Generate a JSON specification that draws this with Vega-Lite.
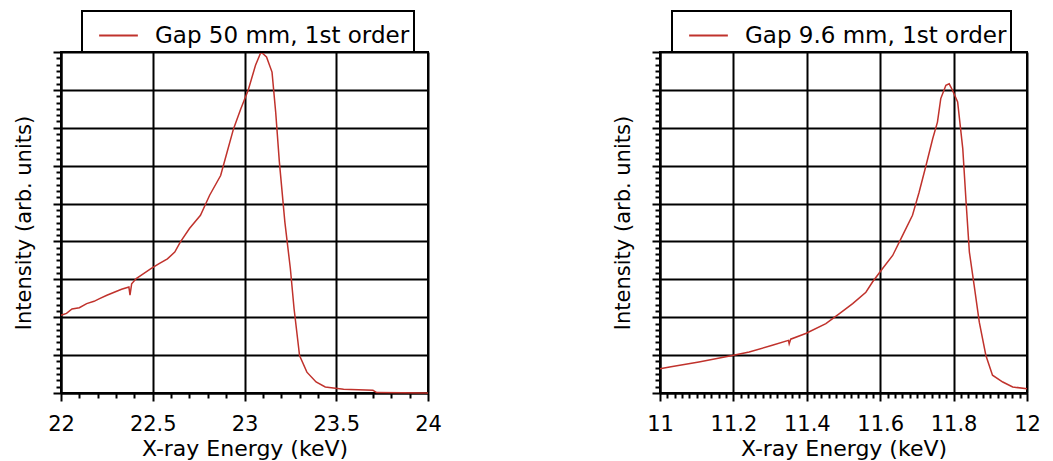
{
  "$schema": "https://vega.github.io/schema/vega-lite/v6.json",
  "background": "white",
  "padding": {"left": 12, "top": 9, "right": 5, "bottom": 5},
  "spacing": 168,
  "resolve": {"scale": {"color": "independent"}, "legend": {"color": "independent"}},
  "datasets": {
    "left": [
      {"energy": 22.0, "intensity": 2.05, "series": "Gap 50 mm, 1st order"},
      {"energy": 22.03, "intensity": 2.1, "series": "Gap 50 mm, 1st order"},
      {"energy": 22.06, "intensity": 2.22, "series": "Gap 50 mm, 1st order"},
      {"energy": 22.1, "intensity": 2.25, "series": "Gap 50 mm, 1st order"},
      {"energy": 22.14, "intensity": 2.36, "series": "Gap 50 mm, 1st order"},
      {"energy": 22.18, "intensity": 2.42, "series": "Gap 50 mm, 1st order"},
      {"energy": 22.21, "intensity": 2.49, "series": "Gap 50 mm, 1st order"},
      {"energy": 22.25, "intensity": 2.58, "series": "Gap 50 mm, 1st order"},
      {"energy": 22.29, "intensity": 2.66, "series": "Gap 50 mm, 1st order"},
      {"energy": 22.33, "intensity": 2.74, "series": "Gap 50 mm, 1st order"},
      {"energy": 22.37, "intensity": 2.8, "series": "Gap 50 mm, 1st order"},
      {"energy": 22.376, "intensity": 2.58, "series": "Gap 50 mm, 1st order"},
      {"energy": 22.385, "intensity": 2.88, "series": "Gap 50 mm, 1st order"},
      {"energy": 22.41, "intensity": 3.02, "series": "Gap 50 mm, 1st order"},
      {"energy": 22.45, "intensity": 3.15, "series": "Gap 50 mm, 1st order"},
      {"energy": 22.49, "intensity": 3.28, "series": "Gap 50 mm, 1st order"},
      {"energy": 22.53, "intensity": 3.4, "series": "Gap 50 mm, 1st order"},
      {"energy": 22.58, "intensity": 3.54, "series": "Gap 50 mm, 1st order"},
      {"energy": 22.62, "intensity": 3.72, "series": "Gap 50 mm, 1st order"},
      {"energy": 22.65, "intensity": 3.98, "series": "Gap 50 mm, 1st order"},
      {"energy": 22.7, "intensity": 4.34, "series": "Gap 50 mm, 1st order"},
      {"energy": 22.76, "intensity": 4.69, "series": "Gap 50 mm, 1st order"},
      {"energy": 22.81, "intensity": 5.22, "series": "Gap 50 mm, 1st order"},
      {"energy": 22.87, "intensity": 5.74, "series": "Gap 50 mm, 1st order"},
      {"energy": 22.9, "intensity": 6.27, "series": "Gap 50 mm, 1st order"},
      {"energy": 22.94, "intensity": 6.97, "series": "Gap 50 mm, 1st order"},
      {"energy": 22.98, "intensity": 7.5, "series": "Gap 50 mm, 1st order"},
      {"energy": 23.02, "intensity": 7.99, "series": "Gap 50 mm, 1st order"},
      {"energy": 23.06, "intensity": 8.65, "series": "Gap 50 mm, 1st order"},
      {"energy": 23.09, "intensity": 9.0, "series": "Gap 50 mm, 1st order"},
      {"energy": 23.12, "intensity": 8.87, "series": "Gap 50 mm, 1st order"},
      {"energy": 23.15, "intensity": 8.47, "series": "Gap 50 mm, 1st order"},
      {"energy": 23.17, "intensity": 7.41, "series": "Gap 50 mm, 1st order"},
      {"energy": 23.19, "intensity": 6.1, "series": "Gap 50 mm, 1st order"},
      {"energy": 23.22, "intensity": 4.51, "series": "Gap 50 mm, 1st order"},
      {"energy": 23.25, "intensity": 3.28, "series": "Gap 50 mm, 1st order"},
      {"energy": 23.27, "intensity": 2.23, "series": "Gap 50 mm, 1st order"},
      {"energy": 23.3, "intensity": 0.99, "series": "Gap 50 mm, 1st order"},
      {"energy": 23.34, "intensity": 0.55, "series": "Gap 50 mm, 1st order"},
      {"energy": 23.39, "intensity": 0.29, "series": "Gap 50 mm, 1st order"},
      {"energy": 23.44, "intensity": 0.16, "series": "Gap 50 mm, 1st order"},
      {"energy": 23.54, "intensity": 0.1, "series": "Gap 50 mm, 1st order"},
      {"energy": 23.7, "intensity": 0.07, "series": "Gap 50 mm, 1st order"},
      {"energy": 23.72, "intensity": 0.01, "series": "Gap 50 mm, 1st order"},
      {"energy": 24.0, "intensity": 0.0, "series": "Gap 50 mm, 1st order"}
    ],
    "right": [
      {"energy": 11.0, "intensity": 0.64, "series": "Gap 9.6 mm, 1st order"},
      {"energy": 11.03, "intensity": 0.69, "series": "Gap 9.6 mm, 1st order"},
      {"energy": 11.106, "intensity": 0.82, "series": "Gap 9.6 mm, 1st order"},
      {"energy": 11.197, "intensity": 0.99, "series": "Gap 9.6 mm, 1st order"},
      {"energy": 11.243, "intensity": 1.08, "series": "Gap 9.6 mm, 1st order"},
      {"energy": 11.306, "intensity": 1.26, "series": "Gap 9.6 mm, 1st order"},
      {"energy": 11.35, "intensity": 1.39, "series": "Gap 9.6 mm, 1st order"},
      {"energy": 11.352, "intensity": 1.3, "series": "Gap 9.6 mm, 1st order"},
      {"energy": 11.356, "intensity": 1.42, "series": "Gap 9.6 mm, 1st order"},
      {"energy": 11.397, "intensity": 1.57, "series": "Gap 9.6 mm, 1st order"},
      {"energy": 11.452, "intensity": 1.83, "series": "Gap 9.6 mm, 1st order"},
      {"energy": 11.488, "intensity": 2.09, "series": "Gap 9.6 mm, 1st order"},
      {"energy": 11.525, "intensity": 2.36, "series": "Gap 9.6 mm, 1st order"},
      {"energy": 11.561, "intensity": 2.66, "series": "Gap 9.6 mm, 1st order"},
      {"energy": 11.579, "intensity": 2.93, "series": "Gap 9.6 mm, 1st order"},
      {"energy": 11.606, "intensity": 3.28, "series": "Gap 9.6 mm, 1st order"},
      {"energy": 11.634, "intensity": 3.63, "series": "Gap 9.6 mm, 1st order"},
      {"energy": 11.661, "intensity": 4.16, "series": "Gap 9.6 mm, 1st order"},
      {"energy": 11.688, "intensity": 4.69, "series": "Gap 9.6 mm, 1st order"},
      {"energy": 11.706, "intensity": 5.3, "series": "Gap 9.6 mm, 1st order"},
      {"energy": 11.725, "intensity": 6.01, "series": "Gap 9.6 mm, 1st order"},
      {"energy": 11.743, "intensity": 6.71, "series": "Gap 9.6 mm, 1st order"},
      {"energy": 11.756, "intensity": 7.15, "series": "Gap 9.6 mm, 1st order"},
      {"energy": 11.765, "intensity": 7.77, "series": "Gap 9.6 mm, 1st order"},
      {"energy": 11.779, "intensity": 8.12, "series": "Gap 9.6 mm, 1st order"},
      {"energy": 11.788, "intensity": 8.16, "series": "Gap 9.6 mm, 1st order"},
      {"energy": 11.797, "intensity": 7.99, "series": "Gap 9.6 mm, 1st order"},
      {"energy": 11.811, "intensity": 7.68, "series": "Gap 9.6 mm, 1st order"},
      {"energy": 11.825, "intensity": 6.45, "series": "Gap 9.6 mm, 1st order"},
      {"energy": 11.834, "intensity": 5.04, "series": "Gap 9.6 mm, 1st order"},
      {"energy": 11.843, "intensity": 3.72, "series": "Gap 9.6 mm, 1st order"},
      {"energy": 11.856, "intensity": 2.84, "series": "Gap 9.6 mm, 1st order"},
      {"energy": 11.87, "intensity": 1.87, "series": "Gap 9.6 mm, 1st order"},
      {"energy": 11.888, "intensity": 0.99, "series": "Gap 9.6 mm, 1st order"},
      {"energy": 11.906, "intensity": 0.47, "series": "Gap 9.6 mm, 1st order"},
      {"energy": 11.934, "intensity": 0.29, "series": "Gap 9.6 mm, 1st order"},
      {"energy": 11.961, "intensity": 0.16, "series": "Gap 9.6 mm, 1st order"},
      {"energy": 12.0, "intensity": 0.11, "series": "Gap 9.6 mm, 1st order"}
    ]
  },
  "config": {
    "font": "DejaVu Sans",
    "view": {"stroke": "black", "strokeWidth": 2},
    "axis": {
      "domainColor": "black",
      "domainWidth": 2,
      "tickColor": "black",
      "tickWidth": 2,
      "gridColor": "black",
      "gridWidth": 2,
      "labelFont": "DejaVu Sans",
      "labelFontSize": 21,
      "labelColor": "black",
      "titleFont": "DejaVu Sans",
      "titleFontSize": 22,
      "titleFontWeight": "normal",
      "titleColor": "black",
      "labelOverlap": false,
      "labelFlush": false,
      "labelBound": false
    },
    "legend": {
      "labelFont": "DejaVu Sans",
      "labelFontSize": 23,
      "labelColor": "black",
      "labelLimit": 0
    }
  },
  "hconcat": [
    {
      "width": 367,
      "height": 341,
      "data": {"name": "left"},
      "mark": {"type": "line", "strokeWidth": 1.5, "interpolate": "linear"},
      "encoding": {
        "x": {
          "field": "energy",
          "type": "quantitative",
          "scale": {"domain": [22, 24], "nice": false, "zero": false},
          "axis": {
            "title": "X-ray Energy (keV)",
            "values": [22, 22.1, 22.2, 22.3, 22.4, 22.5, 22.6, 22.7, 22.8, 22.9, 23, 23.1, 23.2, 23.3, 23.4, 23.5, 23.6, 23.7, 23.8, 23.9, 24],
            "labelExpr": "abs(datum.value*2 - round(datum.value*2)) < 0.01 ? format(datum.value, '~g') : ''",
            "tickSize": {"condition": {"test": "abs(datum.value*2 - round(datum.value*2)) < 0.01", "value": 8}, "value": 5},
            "gridOpacity": {"condition": {"test": "abs(datum.value*2 - round(datum.value*2)) < 0.01", "value": 1}, "value": 0},
            "labelPadding": 12,
            "titlePadding": 4
          }
        },
        "y": {
          "field": "intensity",
          "type": "quantitative",
          "scale": {"domain": [0, 9], "nice": false, "zero": false},
          "axis": {
            "title": "Intensity (arb. units)",
            "titleFontSize": 21,
            "labels": false,
            "values": [0, 0.1667, 0.3333, 0.5, 0.6667, 0.8333, 1, 1.1667, 1.3333, 1.5, 1.6667, 1.8333, 2, 2.1667, 2.3333, 2.5, 2.6667, 2.8333, 3, 3.1667, 3.3333, 3.5, 3.6667, 3.8333, 4, 4.1667, 4.3333, 4.5, 4.6667, 4.8333, 5, 5.1667, 5.3333, 5.5, 5.6667, 5.8333, 6, 6.1667, 6.3333, 6.5, 6.6667, 6.8333, 7, 7.1667, 7.3333, 7.5, 7.6667, 7.8333, 8, 8.1667, 8.3333, 8.5, 8.6667, 8.8333, 9],
            "tickSize": {"condition": {"test": "abs(datum.value - round(datum.value)) < 0.01", "value": 8}, "value": 5},
            "gridOpacity": {"condition": {"test": "abs(datum.value - round(datum.value)) < 0.01", "value": 1}, "value": 0},
            "titlePadding": 18
          }
        },
        "color": {
          "field": "series",
          "type": "nominal",
          "scale": {"range": ["#c0322c"]},
          "legend": {
            "title": null,
            "orient": "none",
            "legendX": 21,
            "legendY": -41,
            "strokeColor": "black",
            "padding": 4,
            "symbolOffset": 12,
            "symbolType": "stroke",
            "symbolSize": 1500,
            "symbolStrokeWidth": 2,
            "labelOffset": 16,
            "encode": {"legend": {"update": {"strokeWidth": {"value": 2}}}}
          }
        }
      }
    },
    {
      "width": 367,
      "height": 341,
      "data": {"name": "right"},
      "mark": {"type": "line", "strokeWidth": 1.5, "interpolate": "linear"},
      "encoding": {
        "x": {
          "field": "energy",
          "type": "quantitative",
          "scale": {"domain": [11, 12], "nice": false, "zero": false},
          "axis": {
            "title": "X-ray Energy (keV)",
            "values": [11, 11.02, 11.04, 11.06, 11.08, 11.1, 11.12, 11.14, 11.16, 11.18, 11.2, 11.22, 11.24, 11.26, 11.28, 11.3, 11.32, 11.34, 11.36, 11.38, 11.4, 11.42, 11.44, 11.46, 11.48, 11.5, 11.52, 11.54, 11.56, 11.58, 11.6, 11.62, 11.64, 11.66, 11.68, 11.7, 11.72, 11.74, 11.76, 11.78, 11.8, 11.82, 11.84, 11.86, 11.88, 11.9, 11.92, 11.94, 11.96, 11.98, 12],
            "labelExpr": "abs(datum.value*5 - round(datum.value*5)) < 0.01 ? format(datum.value, '~g') : ''",
            "tickSize": {"condition": {"test": "abs(datum.value*5 - round(datum.value*5)) < 0.01", "value": 8}, "value": 5},
            "gridOpacity": {"condition": {"test": "abs(datum.value*5 - round(datum.value*5)) < 0.01", "value": 1}, "value": 0},
            "labelPadding": 12,
            "titlePadding": 4
          }
        },
        "y": {
          "field": "intensity",
          "type": "quantitative",
          "scale": {"domain": [0, 9], "nice": false, "zero": false},
          "axis": {
            "title": "Intensity (arb. units)",
            "titleFontSize": 21,
            "labels": false,
            "values": [0, 0.1667, 0.3333, 0.5, 0.6667, 0.8333, 1, 1.1667, 1.3333, 1.5, 1.6667, 1.8333, 2, 2.1667, 2.3333, 2.5, 2.6667, 2.8333, 3, 3.1667, 3.3333, 3.5, 3.6667, 3.8333, 4, 4.1667, 4.3333, 4.5, 4.6667, 4.8333, 5, 5.1667, 5.3333, 5.5, 5.6667, 5.8333, 6, 6.1667, 6.3333, 6.5, 6.6667, 6.8333, 7, 7.1667, 7.3333, 7.5, 7.6667, 7.8333, 8, 8.1667, 8.3333, 8.5, 8.6667, 8.8333, 9],
            "tickSize": {"condition": {"test": "abs(datum.value - round(datum.value)) < 0.01", "value": 8}, "value": 5},
            "gridOpacity": {"condition": {"test": "abs(datum.value - round(datum.value)) < 0.01", "value": 1}, "value": 0},
            "titlePadding": 18
          }
        },
        "color": {
          "field": "series",
          "type": "nominal",
          "scale": {"range": ["#c0322c"]},
          "legend": {
            "title": null,
            "orient": "none",
            "legendX": 12,
            "legendY": -41,
            "strokeColor": "black",
            "padding": 4,
            "symbolOffset": 12,
            "symbolType": "stroke",
            "symbolSize": 1500,
            "symbolStrokeWidth": 2,
            "labelOffset": 16,
            "encode": {"legend": {"update": {"strokeWidth": {"value": 2}}}}
          }
        }
      }
    }
  ]
}
